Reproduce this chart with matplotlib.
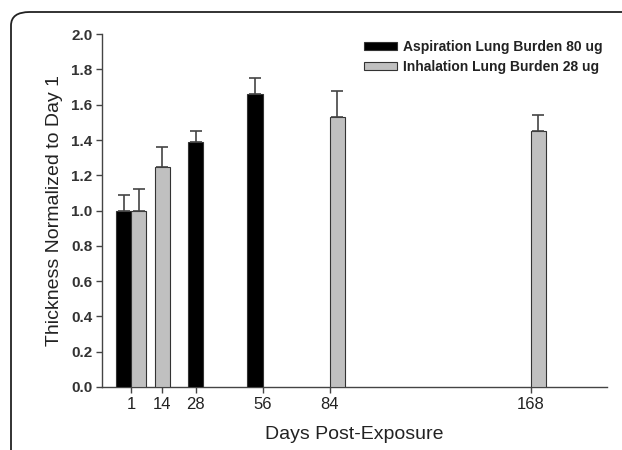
import matplotlib
matplotlib.use("Agg")
import matplotlib.pyplot as plt
from matplotlib.patches import FancyBboxPatch

plt.rcParams['font.family'] = ['Liberation Sans', 'DejaVu Sans']

# Daten
asp_days = [1, 28, 56]
asp_mean = [1.00, 1.39, 1.66]
asp_err = [0.09, 0.06, 0.09]
asp_align = ['right', 'center', 'right']

inh_days = [1, 14, 84, 168]
inh_mean = [1.00, 1.245, 1.53, 1.45]
inh_err = [0.12, 0.115, 0.15, 0.09]
inh_align = ['left', 'center', 'left', 'left']

tick_days = [1, 14, 28, 56, 84, 168]
y_ticks = [0.0, 0.2, 0.4, 0.6, 0.8, 1.0, 1.2, 1.4, 1.6, 1.8, 2.0]

BAR_W = 6.4


def bar_centers(days, aligns, w):
    shift = {'left': w / 2, 'center': 0.0, 'right': -w / 2}
    return [d + shift[a] for d, a in zip(days, aligns)]


fig = plt.figure(figsize=(6.22, 4.5), dpi=100)
ax = fig.add_axes([0.164, 0.14, 0.812, 0.784])

ax.bar(bar_centers(asp_days, asp_align, BAR_W), asp_mean, width=BAR_W,
       color='black', edgecolor='#333333', linewidth=0.8,
       yerr=[[0] * len(asp_err), asp_err], capsize=4.5,
       error_kw=dict(ecolor='#444444', elinewidth=1.2, capthick=1.2),
       label='Aspiration Lung Burden 80 ug', zorder=3)
ax.bar(bar_centers(inh_days, inh_align, BAR_W), inh_mean, width=BAR_W,
       color='#c0c0c0', edgecolor='#333333', linewidth=0.8,
       yerr=[[0] * len(inh_err), inh_err], capsize=4.5,
       error_kw=dict(ecolor='#444444', elinewidth=1.2, capthick=1.2),
       label='Inhalation Lung Burden 28 ug', zorder=3)

ax.set_xlim(-11.2, 200)
ax.set_ylim(0, 2.0)
ax.set_xticks(tick_days)
ax.set_xticklabels([str(d) for d in tick_days], fontsize=12, color='#222222')
ax.set_yticks(y_ticks)
ax.set_yticklabels([f'{v:.1f}' for v in y_ticks], fontsize=11,
                   fontweight='bold', color='#333333')

for s in ['top', 'right']:
    ax.spines[s].set_visible(False)
for s in ['left', 'bottom']:
    ax.spines[s].set_color('#444444')
    ax.spines[s].set_linewidth(1.0)
ax.tick_params(direction='out', length=4, width=1.0, color='#444444', pad=3)

ax.set_xlabel('Days Post-Exposure', fontsize=14, color='#222222', labelpad=10)
ax.set_ylabel('Thickness Normalized to Day 1', fontsize=14, color='#222222', labelpad=6)

leg = ax.legend(loc='upper left', bbox_to_anchor=(0.507, 1.0), frameon=False,
                prop={'size': 10, 'weight': 'bold'}, handlelength=2.4,
                handleheight=0.55, handletextpad=0.45, labelspacing=0.45,
                borderaxespad=0)
for t in leg.get_texts():
    t.set_color('#222222')

# Rahmen um die Abbildung (rechts und unten abgeschnitten)
frame = FancyBboxPatch((11 / 622, -0.2), 1.2, 1.2 - 12 / 450,
                       boxstyle='round,pad=0,rounding_size=0.03',
                       transform=fig.transFigure, facecolor='none',
                       edgecolor='#222222', linewidth=1.3, clip_on=False)
fig.patches.append(frame)

fig.savefig('out.png', dpi=100)
